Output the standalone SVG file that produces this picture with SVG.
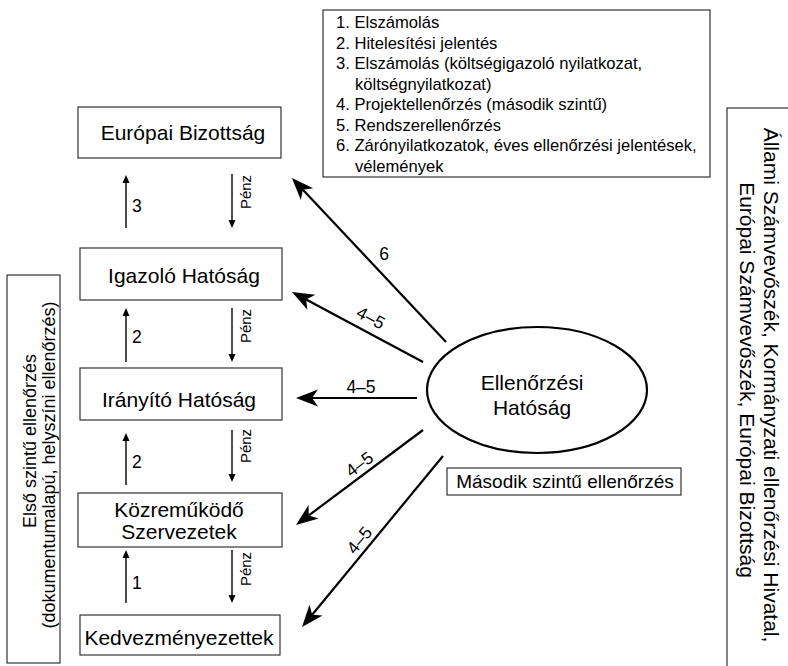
<svg xmlns="http://www.w3.org/2000/svg" width="788" height="666" viewBox="0 0 788 666">
<defs>
<marker id="big" markerUnits="userSpaceOnUse" viewBox="-7 -9 24 18" refX="0" refY="0" markerWidth="24" markerHeight="18" orient="auto">
<path d="M16,0 L-6,-8.5 L0,0 L-6,8.5 Z" fill="#000"/>
</marker>
<marker id="small" markerUnits="userSpaceOnUse" viewBox="-1 -5 10 10" refX="0" refY="0" markerWidth="10" markerHeight="10" orient="auto">
<path d="M8,0 L0,-3.5 L0,3.5 Z" fill="#000"/>
</marker>
</defs>
<style>
text{font-family:"Liberation Sans",Arial,sans-serif;fill:#000}
.box{fill:#fff;stroke:#333;stroke-width:1.2}
.nt{font-size:21px;text-anchor:middle}
.leg{font-size:16.6px}
.big{stroke:#000;stroke-width:2.2;fill:none;marker-end:url(#big)}
.sm{stroke:#000;stroke-width:1.4;fill:none;marker-end:url(#small)}
.lbl{font-size:17.5px}
.pz{font-size:15px;text-anchor:middle}
.el{font-size:18px;text-anchor:middle}
</style>
<rect width="788" height="666" fill="#fff"/>

<g id="legend">
<rect class="box" x="323" y="10" width="387" height="167"/>
<text class="leg" x="336" y="28">1. Elszámolás</text>
<text class="leg" x="336" y="48.5">2. Hitelesítési jelentés</text>
<text class="leg" x="336" y="69">3. Elszámolás (költségigazoló nyilatkozat,</text>
<text class="leg" x="355" y="89.5">költségnyilatkozat)</text>
<text class="leg" x="336" y="110">4. Projektellenőrzés (második szintű)</text>
<text class="leg" x="336" y="130.5">5. Rendszerellenőrzés</text>
<text class="leg" x="336" y="151">6. Zárónyilatkozatok, éves ellenőrzési jelentések,</text>
<text class="leg" x="355" y="171.5">vélemények</text>
</g>

<g id="europai-bizottsag">
<rect class="box" x="78" y="107" width="203" height="51"/>
<text class="nt" x="183" y="140">Európai Bizottság</text>
</g>
<g id="igazolo-hatosag">
<rect class="box" x="80" y="248" width="202" height="52"/>
<text class="nt" x="184" y="283">Igazoló Hatóság</text>
</g>
<g id="iranyito-hatosag">
<rect class="box" x="80" y="368" width="202" height="52"/>
<text class="nt" x="179" y="407">Irányító Hatóság</text>
</g>
<g id="kozremukodo">
<rect class="box" x="78" y="493" width="204" height="54"/>
<text class="nt" x="179" y="517">Közreműködő</text>
<text class="nt" x="179" y="539">Szervezetek</text>
</g>
<g id="kedvezmenyezettek">
<rect class="box" x="80" y="615" width="200" height="40"/>
<text class="nt" x="179" y="645">Kedvezményezettek</text>
</g>

<g id="ellenorzesi-hatosag">
<ellipse cx="537" cy="390" rx="110" ry="63" fill="#fff" stroke="#000" stroke-width="2.2"/>
<text class="nt" x="532" y="390">Ellenőrzési</text>
<text class="nt" x="532" y="415">Hatóság</text>
</g>

<g id="masodik-szintu">
<rect class="box" x="447" y="468" width="234" height="27"/>
<text x="565" y="488" font-size="19" text-anchor="middle">Második szintű ellenőrzés</text>
</g>

<g id="elso-szintu">
<rect class="box" x="7" y="275" width="53" height="388"/>
<text class="el" transform="translate(36,441) rotate(-90)">Első szintű ellenőrzés</text>
<text class="el" transform="translate(55,465) rotate(-90)">(dokumentumalapú, helyszíni ellenőrzés)</text>
</g>

<g id="szamvevoszek">
<rect class="box" x="727" y="108" width="80" height="580"/>
<text class="nt" transform="translate(764,385) rotate(90)">Állami Számvevőszék, Kormányzati ellenőrzési Hivatal,</text>
<text class="nt" transform="translate(740,380) rotate(90)">Európai Számvevőszék, Európai Bizottság</text>
</g>

<g id="connectors">
<line class="sm" x1="126" y1="228" x2="126" y2="183"/>
<line class="sm" x1="232" y1="174" x2="232" y2="220"/>
<line class="sm" x1="126" y1="362" x2="126" y2="316"/>
<line class="sm" x1="232" y1="308" x2="232" y2="354"/>
<line class="sm" x1="126" y1="485" x2="126" y2="441"/>
<line class="sm" x1="232" y1="430" x2="232" y2="474"/>
<line class="sm" x1="126" y1="603" x2="126" y2="558"/>
<line class="sm" x1="232" y1="550" x2="232" y2="595"/>
<text class="lbl" x="132" y="212">3</text>
<text class="lbl" x="132" y="343">2</text>
<text class="lbl" x="132" y="468">2</text>
<text class="lbl" x="132" y="589">1</text>
<text class="pz" transform="translate(251,192) rotate(-90)">Pénz</text>
<text class="pz" transform="translate(251,326) rotate(-90)">Pénz</text>
<text class="pz" transform="translate(251,446) rotate(-90)">Pénz</text>
<text class="pz" transform="translate(251,569) rotate(-90)">Pénz</text>

<line class="big" x1="446" y1="342" x2="302.9" y2="189.7"/>
<line class="big" x1="423" y1="362" x2="306.1" y2="299.5"/>
<line class="big" x1="417" y1="398" x2="312" y2="398"/>
<line class="big" x1="423" y1="430" x2="308.8" y2="515.4"/>
<line class="big" x1="443" y1="456" x2="312.2" y2="614.7"/>
<text class="lbl" x="384" y="260" text-anchor="middle">6</text>
<text class="lbl" text-anchor="middle" transform="translate(368,323) rotate(28)">4–5</text>
<text class="lbl" x="361" y="393" text-anchor="middle">4–5</text>
<text class="lbl" text-anchor="middle" transform="translate(363,469) rotate(-37)">4–5</text>
<text class="lbl" text-anchor="middle" transform="translate(364,544) rotate(-50.5)">4–5</text>
</g>
</svg>
